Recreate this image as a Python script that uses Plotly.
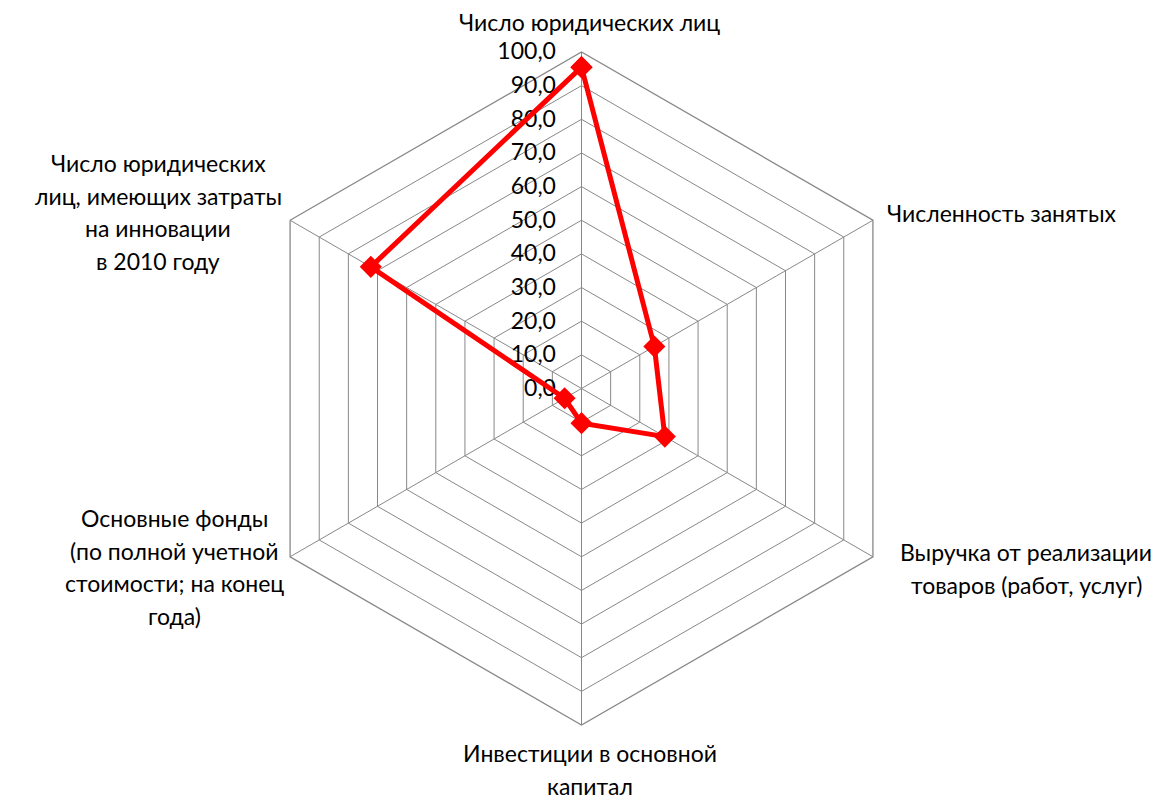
import plotly.graph_objects as go

categories = [
    "Число юридических лиц",
    "Численность занятых",
    "Выручка от реализации<br>товаров (работ, услуг)",
    "Инвестиции в основной<br>капитал",
    "Основные фонды<br>(по полной учетной<br>стоимости; на конец<br>года)",
    "Число юридических<br>лиц, имеющих затраты<br>на инновации<br>в 2010 году",
]
values = [95.5, 25.0, 28.6, 10.3, 5.8, 72.3]
radial_ticks = [0, 10, 20, 30, 40, 50, 60, 70, 80, 90, 100]

W, H = 1160, 802
CX, CY, R = 573.5, 380.5, 336.5
FONT = "Lato, 'Open Sans', sans-serif"
FS = 23
GRID = "#888888"

fig = go.Figure()
fig.add_trace(go.Scatterpolar(
    r=values + [values[0]],
    theta=categories + [categories[0]],
    mode="lines+markers",
    line=dict(color="#FF0000", width=5),
    marker=dict(symbol="diamond", size=17, color="#FF0000"),
    showlegend=False,
    hoverinfo="skip",
))

dom_x = 0.36
fig.update_layout(
    width=W, height=H,
    margin=dict(l=0, r=0, t=0, b=0),
    paper_bgcolor="white", plot_bgcolor="white",
    separators=", ",
    font=dict(family=FONT, size=FS, color="#000000"),
    polar=dict(
        domain=dict(x=[CX / W - dom_x, CX / W + dom_x],
                    y=[(H - CY - R) / H, (H - CY + R) / H]),
        gridshape="linear",
        bgcolor="white",
        angularaxis=dict(
            type="category", categoryarray=categories,
            rotation=90, direction="clockwise",
            showticklabels=False, ticks="",
            showgrid=True, gridcolor=GRID, gridwidth=1.3,
            showline=True, linecolor=GRID, linewidth=1.3,
            layer="below traces",
        ),
        radialaxis=dict(
            range=[0, 100], tickvals=radial_ticks, tickformat=".1f",
            angle=90, tickangle=90, side="counterclockwise",
            showline=False, showgrid=True, gridcolor=GRID, gridwidth=1.3,
            ticks="outside", ticklen=17, tickcolor="rgba(0,0,0,0)",
            tickfont=dict(family=FONT, size=FS, color="#000000"),
            layer="below traces",
        ),
    ),
)

label_pos = [
    (582, 14, "center"),
    (877, 205, "left"),
    (1018, 544, "center"),
    (582, 745, "center"),
    (166, 510, "center"),
    (150, 155, "center"),
]
LS = 32.7
for cat, (x, y, al) in zip(categories, label_pos):
    for i, line in enumerate(cat.split("<br>")):
        fig.add_annotation(
            x=x / W, y=1 - (y + i * LS) / H, xref="paper", yref="paper",
            text=line, showarrow=False,
            xanchor="left" if al == "left" else "center", yanchor="middle",
            font=dict(family=FONT, size=FS, color="#000000"),
        )

fig.write_html("out.html")
